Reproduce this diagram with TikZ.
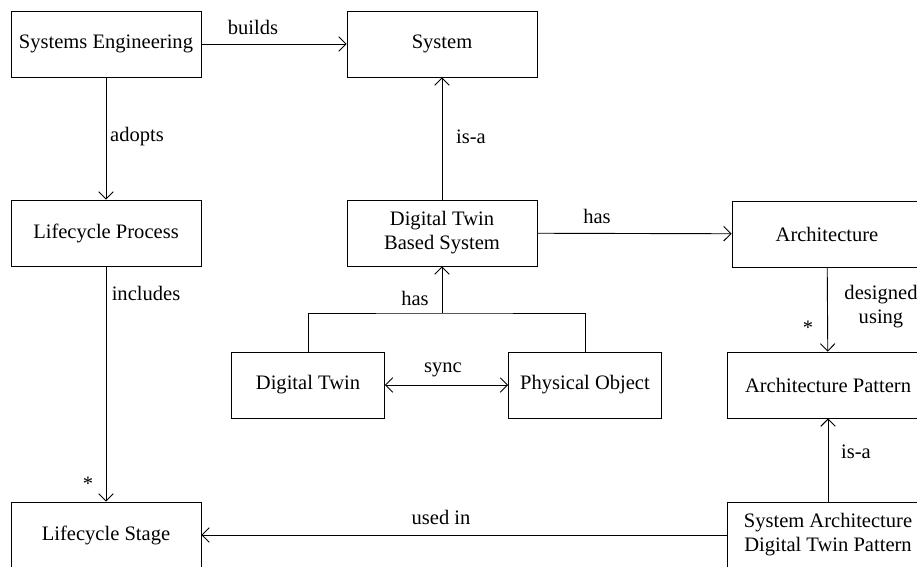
\documentclass[tikz,border=0pt]{standalone}
\usepackage{fontspec}
\setmainfont{Liberation Serif}
\usetikzlibrary{arrows.meta}

\tikzset{
    px/.style={x=0.55pt, y=-0.55pt},
    box/.style={draw, line width=0.5pt, minimum width=104.5pt, minimum height=36.3pt, align=center, inner sep=2pt},
    widebox/.style={box, minimum width=111pt},
    smallbox/.style={box, minimum width=84pt},
    link/.style={line width=0.5pt, -{Straight Barb[length=4pt, width=8pt]}},
    twoway/.style={line width=0.5pt, {Straight Barb[length=4pt, width=8pt]}-{Straight Barb[length=4pt, width=8pt]}},
    tag/.style={align=center, inner sep=0pt}
}

\begin{document}
\begin{tikzpicture}[px, font=\fontsize{11.3}{13.2}\selectfont]
    % Fix the picture frame
    \useasboundingbox (0,0) rectangle (917,566);

    % Draw the boxes
    \node[box] (eng)   at (106,44)  {Systems Engineering};
    \node[box] (sys)   at (442,44)  {System};
    \node[box] (proc)  at (106,233) {Lifecycle Process};
    \node[box] (dtbs)  at (442,233) {Digital Twin\\Based System};
    \node[box] (arch)  at (827,234) {Architecture};
    \node[box] (stage) at (106,535) {Lifecycle Stage};
    \node[smallbox] (twin) at (308,385) {Digital Twin};
    \node[smallbox] (phys) at (585,385) {Physical Object};
    \node[widebox] (pat)   at (828,385) {Architecture Pattern};
    \node[widebox] (sadtp) at (828,535) {System Architecture\\Digital Twin Pattern};

    % Draw the straight links
    \foreach \a/\b in {eng/sys, eng/proc, dtbs/sys, proc/stage, dtbs/arch, arch/pat, sadtp/pat, sadtp/stage} {
        \draw[link] (\a) -- (\b);
    }

    % Draw the has tree and the sync link
    \coordinate (fork) at (442,313);
    \draw[line width=0.5pt] (twin.north) |- (fork) -| (phys.north);
    \draw[link] (fork) -- (dtbs.south);
    \draw[twoway] (twin) -- (phys);

    % Draw the link labels
    \node[tag] at (253,27)  {builds};
    \node[tag] at (137,137) {adopts};
    \node[tag] at (471,137) {is-a};
    \node[tag] at (146,293) {includes};
    \node[tag] at (597,216) {has};
    \node[tag] at (415,298) {has};
    \node[tag] at (443,370) {sync};
    \node[tag] at (881,307) {designed\\using};
    \node[tag] at (856,452) {is-a};
    \node[tag] at (441,517) {used in};

    % Draw the multiplicities
    \node[tag] at (88,484)  {*};
    \node[tag] at (808,328) {*};
\end{tikzpicture}
\end{document}
